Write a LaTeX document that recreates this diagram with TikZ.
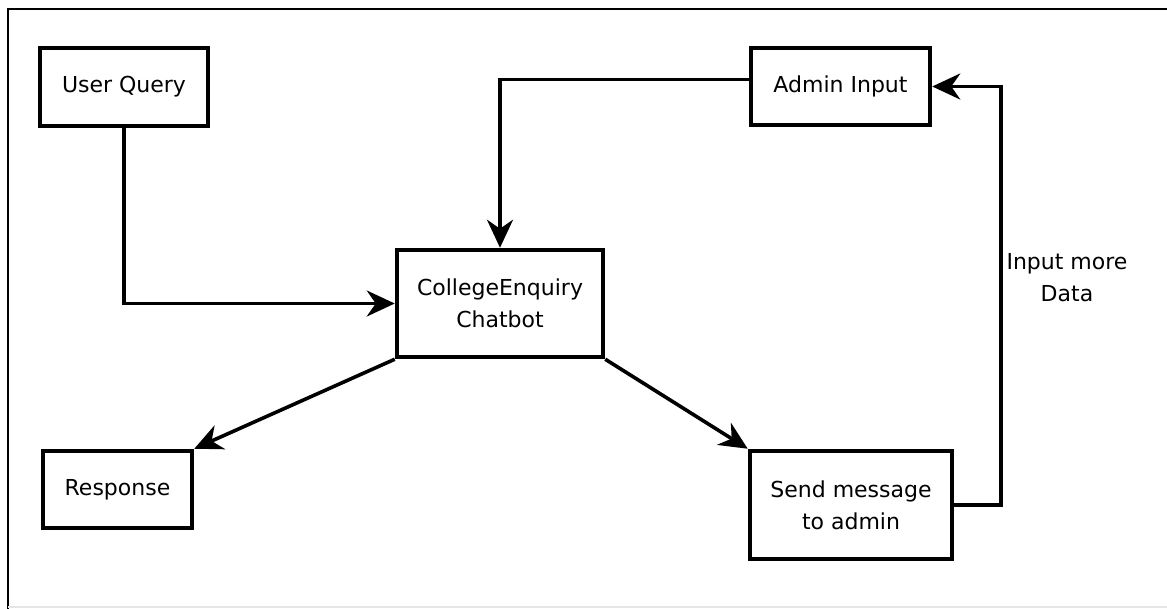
\documentclass[tikz,border=0pt]{standalone}
\usepackage{fontspec}
\setmainfont{DejaVu Sans}
\usetikzlibrary{arrows.meta}
\begin{document}
\begin{tikzpicture}[x=1pt,y=-1pt,
  box/.style={draw=black,line width=4.5pt,fill=white,align=center,inner sep=0pt,
    font=\fontsize{22}{32}\selectfont},
  arr/.style={line width=3.6pt,-{Stealth[length=28pt,width=26pt,inset=9pt]}}]
\useasboundingbox (0,0) rectangle (1167,609);
\draw[line width=2.5pt] (8,609) -- (8,9) -- (1167,9);
\draw[line width=1.5pt,black!10] (8,607) -- (1167,607);
\node[box,minimum width=168pt,minimum height=78pt] (uq) at (124,87) {User Query};
\node[box,minimum width=179pt,minimum height=77pt] (ai) at (840.5,86.5) {Admin Input};
\node[box,minimum width=206pt,minimum height=107pt] (cb) at (500,303.5) {CollegeEnquiry\\Chatbot};
\node[box,minimum width=149pt,minimum height=77pt] (rs) at (117.5,489.5) {Response};
\node[box,minimum width=202pt,minimum height=108pt] (sm) at (851,505) {Send message\\to admin};
\coordinate (c) at (1001,300);
\draw[arr] (uq.south) |- (cb.west);
\draw[arr] ([yshift=7pt]ai.west) -| (cb.north);
\draw[arr] (cb.south west) -- (rs.north east);
\draw[arr] (cb.south east) -- (sm.north west);
\draw[arr] (sm.east) -- (sm.east -| c) -- (c |- ai.east) -- (ai.east);
\node[align=center,font=\fontsize{22}{32}\selectfont] (lbl) at (1067,278) {Input more\\Data};
\end{tikzpicture}
\end{document}
